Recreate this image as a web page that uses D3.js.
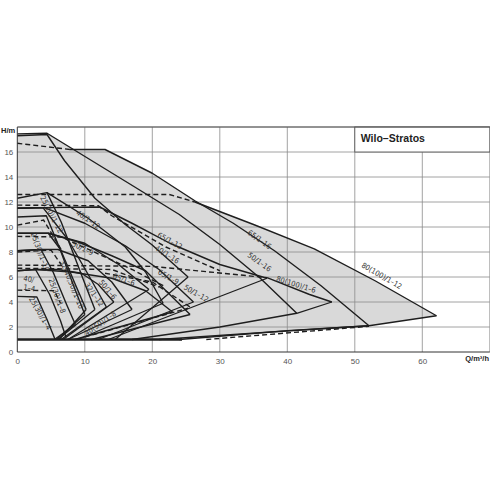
<!DOCTYPE html>
<html>
<head>
<meta charset="utf-8">
<script src="https://cdn.jsdelivr.net/npm/d3@7"></script>
<style>
  html, body { margin: 0; padding: 0; background: #fff; }
  svg { display: block; }
</style>
</head>
<body>
<svg id="chart" width="490" height="490"></svg>
<script>
// Wilo-Stratos range overview: head H (m) against flow Q (m3/h).

var xTicks = [0, 10, 20, 30, 40, 50, 60];
var yTicks = [0, 2, 4, 6, 8, 10, 12, 14, 16];

// Outer border of the shaded working area
var envelope = [
  [0, 1.0], [0, 17.45], [4.4, 17.5], [8.2, 16.25], [13, 16.2], [20, 14.3], [26.3, 12.1],
  [35, 10.2], [44, 8.25], [53, 5.7], [62.1, 2.9], [52.1, 2.1], [40, 1.7], [24, 1.0]
];

// Max-speed curves (solid), each ending at the wedge tip
var maxCurves = [
  [[26.3, 12.0], [35, 10.2], [44, 8.25], [53, 5.7], [62.1, 2.9]],
  [[7.8, 16.2], [13, 16.2], [20, 14.3], [26.3, 12.1], [32, 10.3], [38.1, 8.1], [45, 5.3], [52.1, 2.1]],
  [[0, 17.45], [4.4, 17.5], [17.4, 13.2], [24, 11.0], [30, 8.6], [36, 5.9], [41.4, 3.1]],
  [[0, 17.3], [4.4, 17.4], [7, 15.3], [11.5, 12.3], [16, 10.2], [19.9, 8.6], [25.3, 6.0]],
  [[37, 5.95], [43.3, 4.6], [46.6, 4.0]],
  [[0, 11.5], [4, 11.55], [12.2, 11.6], [17, 10.3], [22.6, 8.7], [30, 7.0], [37, 5.9]],
  [[0, 9.5], [4.6, 9.5], [9, 8.8], [14, 7.7], [19, 6.5], [25.6, 3.0]],
  [[0, 11.5], [4, 11.55], [10, 10.3], [16, 8.5], [21, 6.6], [26.1, 4.0]],
  [[4.4, 12.75], [10.5, 10.7], [16, 8.4], [19, 6.4], [21.6, 3.9]],
  [[0, 12.3], [4.4, 12.75], [6.5, 10.4], [8.5, 7.6], [10.2, 5.2], [11.5, 3.4]],
  [[0, 10.8], [4.3, 10.9], [6.2, 8.4], [8.2, 5.5], [10, 3.0]],
  [[0, 9.5], [4.6, 9.5], [6.4, 8.2], [8.6, 5.4], [10.2, 3.4]],
  [[0, 8.1], [3.5, 8.2], [5.3, 6.4], [7.3, 3.8], [8.6, 2.2]],
  [[0, 6.5], [2.7, 6.6], [4.8, 4.6], [6.4, 2.5], [7.2, 1.2]],
  [[0, 4.45], [2.9, 4.4], [4.4, 2.6], [5.6, 1.0]],
  [[0, 11.5], [3.8, 11.55], [7.5, 9.0], [10.5, 6.2], [13.2, 3.6]],
  [[0, 6.5], [2.7, 6.6], [6, 6.6], [9.5, 6.3], [12, 5.4], [14.3, 4.0]],
  [[0, 8.1], [3.5, 8.2], [6, 8.2], [10.5, 7.3], [14, 5.6], [17, 3.4]],
  [[2.7, 6.6], [8, 6.4], [14, 5.9], [19, 4.9], [23, 3.2]],
  [[4.6, 9.5], [10, 8.7], [15, 7.0], [19.5, 5.0]]
];

// Min-speed curves (solid), rising from the 1 m line to the wedge tip
var minCurves = [
  [[62.1, 2.9], [52.1, 2.1], [40, 1.7], [24, 1.0]],
  [[52.1, 2.1], [36, 1.55], [21, 1.0]],
  [[17, 1.0], [30, 2.0], [41.4, 3.1], [46.6, 4.0]],
  [[14.5, 1.0], [25.3, 6.0]],
  [[13.5, 1.0], [37, 5.9]],
  [[11, 1.0], [25.6, 3.0]],
  [[12, 1.0], [26.1, 4.0]],
  [[9, 1.0], [21.6, 3.9]],
  [[6, 1.0], [11.5, 3.4]],
  [[5.8, 1.0], [10, 3.0]],
  [[6.2, 1.0], [10.2, 3.4]],
  [[5.5, 1.0], [8.6, 2.2]],
  [[6.5, 1.0], [13.2, 3.6]],
  [[6.8, 1.0], [14.3, 4.0]],
  [[7.5, 1.0], [17, 3.4]],
  [[8.5, 1.0], [23, 3.2]],
  [[7.5, 1.0], [19.5, 5.0]]
];

var baseLine = [[0, 1.0], [24.4, 1.0]];

// Dashed control curves
var dashCurves = [
  [[0, 12.6], [22.5, 12.6], [26.3, 12.0]],
  [[0, 16.7], [7.8, 16.2]],
  [[0, 11.75], [12, 11.7], [14, 10.9], [22, 8.4], [30, 6.5]],
  [[0, 6.95], [20, 6.85], [37, 5.95]],
  [[0, 6.7], [14, 6.6], [21, 5.2]],
  [[0, 10.15], [3.9, 10.55], [6.5, 8.2]],
  [[0, 9.25], [6.5, 9.2], [11, 8.1], [17, 6.6], [22, 5.2]],
  [[0, 8.0], [5, 8.15], [6.5, 7.0]],
  [[0, 4.95], [5.5, 4.9], [6.4, 3.9]],
  [[13, 6.3], [20, 5.6], [25.6, 3.6]],
  [[10, 1.2], [25.3, 3.5]],
  [[28, 1.0], [52.1, 2.05]]
];

// Pump names, label centres (Q, H) and text angle
var labelNames = [
  '80(100)/1-12', '65/1-16', '50/1-16', '80(100)/1-6', '65/1-12', '40/1-16', '65/1-9',
  '50/1-12', '40/1-12', '50/1-9', '25(30)/1-12', '25(30)/1-10', '25(30)/1-8', '25(30)/1-4',
  '32(40,50)/1-10', '32/1-12', '50/1-6', '65/1-6', '40(50)/1-8', '40/', '1-4'
];
var labelPos = [
  [54.0, 6.1], [35.9, 9.0], [35.9, 7.2], [41.3, 5.4], [22.6, 8.9], [22.2, 7.8], [22.4, 6.0],
  [26.5, 4.7], [10.5, 10.6], [9.7, 8.3], [5.1, 11.0], [3.4, 8.0], [5.9, 4.5], [3.4, 3.1],
  [8.1, 5.4], [11.4, 4.6], [13.4, 5.0], [15.8, 5.8], [12.3, 2.3], [0.9, 5.9], [0.9, 5.2]
];
var labelAngle = [30, 36, 36, 17, 28, 32, 30, 30, 35, 25, 63, 70, 70, 60, 68, 55, 50, 20, -35, 10, 10];

(function draw() {
  var svg = d3.select('#chart');
  var x = d3.scaleLinear().domain([0, 70]).range([17.3, 489.8]);
  var y = d3.scaleLinear().domain([0, 18]).range([352, 127]);
  var line = d3.line().x(function (d) { return x(d[0]); }).y(function (d) { return y(d[1]); });
  var ink = '#1e1e1e';
  var grid = '#8a8a8a';
  var font = '"Liberation Sans", Arial, sans-serif';
  var narrow = '"DejaVu Sans Condensed", "Liberation Sans Narrow", sans-serif';

  svg.append('path')
    .attr('d', line(envelope) + 'Z')
    .style('fill', '#d9d9d9')
    .style('stroke', 'none');

  // grid
  svg.append('g').selectAll('line').data(d3.range(10, 71, 10)).enter().append('line')
    .attr('x1', function (d) { return x(d); }).attr('x2', function (d) { return x(d); })
    .attr('y1', y(0)).attr('y2', y(18))
    .style('stroke', grid).style('stroke-width', 0.8);
  svg.append('g').selectAll('line').data(d3.range(2, 19, 2)).enter().append('line')
    .attr('x1', x(0)).attr('x2', x(70))
    .attr('y1', function (d) { return y(d); }).attr('y2', function (d) { return y(d); })
    .style('stroke', grid).style('stroke-width', 0.8);

  // title box
  svg.append('rect')
    .attr('x', x(50)).attr('y', y(18))
    .attr('width', x(70) - x(50)).attr('height', y(16) - y(18))
    .style('fill', '#fff').style('stroke', '#555').style('stroke-width', 0.9);
  svg.append('text')
    .attr('x', x(50) + 6).attr('y', y(18) + 15)
    .style('font-family', font).style('font-size', '10.5px').style('font-weight', 'bold')
    .style('fill', '#222')
    .text('Wilo\u2013Stratos');

  // curves
  svg.append('g').selectAll('path').data(dashCurves).enter().append('path')
    .attr('d', line)
    .style('fill', 'none').style('stroke', ink).style('stroke-width', 1.4)
    .style('stroke-dasharray', '5,3');
  svg.append('g').selectAll('path').data(minCurves).enter().append('path')
    .attr('d', line)
    .style('fill', 'none').style('stroke', ink).style('stroke-width', 1.3);
  svg.append('g').selectAll('path').data(maxCurves).enter().append('path')
    .attr('d', line)
    .style('fill', 'none').style('stroke', ink).style('stroke-width', 1.4)
    .style('stroke-linejoin', 'round');
  svg.append('path')
    .attr('d', line(baseLine))
    .style('fill', 'none').style('stroke', ink).style('stroke-width', 2.6);

  // axes
  svg.append('line')
    .attr('x1', x(0)).attr('x2', x(70)).attr('y1', y(0)).attr('y2', y(0))
    .style('stroke', '#333').style('stroke-width', 1);
  svg.append('line')
    .attr('x1', x(0)).attr('x2', x(0)).attr('y1', y(0)).attr('y2', y(18))
    .style('stroke', '#333').style('stroke-width', 1);
  svg.append('line')
    .attr('x1', x(0)).attr('x2', x(70)).attr('y1', y(18)).attr('y2', y(18))
    .style('stroke', '#555').style('stroke-width', 1);

  var xAxis = d3.axisBottom(x).tickValues(xTicks).tickSize(0).tickPadding(6);
  var gx = svg.append('g').attr('transform', 'translate(0,' + y(0) + ')').call(xAxis);
  gx.select('.domain').remove();
  gx.selectAll('text').style('font-family', font).style('font-size', '8px').style('fill', '#555');

  var yAxis = d3.axisLeft(y).tickValues(yTicks).tickSize(0).tickPadding(4);
  var gy = svg.append('g').attr('transform', 'translate(' + x(0) + ',0)').call(yAxis);
  gy.select('.domain').remove();
  gy.selectAll('text').style('font-family', font).style('font-size', '8px').style('fill', '#555');

  svg.append('text')
    .attr('x', 1).attr('y', y(18) + 6)
    .style('font-family', font).style('font-size', '7.5px').style('font-weight', 'bold')
    .style('fill', '#222')
    .text('H/m');
  svg.append('text')
    .attr('x', 489).attr('y', y(0) + 9)
    .attr('text-anchor', 'end')
    .style('font-family', font).style('font-size', '7.5px').style('font-weight', 'bold')
    .style('fill', '#222')
    .text('Q/m\u00b3/h');

  // pump labels
  svg.append('g').selectAll('text').data(labelNames).enter().append('text')
    .attr('transform', function (d, i) {
      return 'translate(' + x(labelPos[i][0]) + ',' + y(labelPos[i][1]) + ') rotate(' + labelAngle[i] + ')';
    })
    .attr('text-anchor', function (d, i) { return i >= 19 ? 'start' : 'middle'; })
    .attr('dy', '0.35em')
    .style('font-family', narrow).style('font-size', '7.5px')
    .style('fill', '#333')
    .text(function (d) { return d.replace(/-/g, '\u2013'); });
}());
</script>
</body>
</html>
